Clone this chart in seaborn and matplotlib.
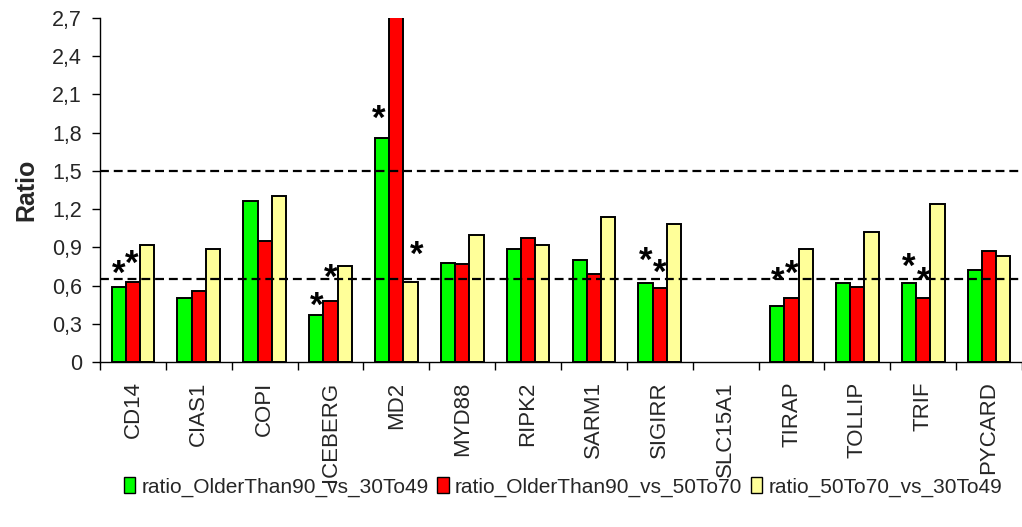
import numpy as np
import pandas as pd
import matplotlib
matplotlib.use("Agg")
import matplotlib.pyplot as plt
from matplotlib.patches import Patch
from matplotlib.ticker import FixedLocator, FuncFormatter
import seaborn as sns

# Expression ratios per gene
genes = ["CD14", "CIAS1", "COPI", "ICEBERG", "MD2", "MYD88", "RIPK2",
         "SARM1", "SIGIRR", "SLC15A1", "TIRAP", "TOLLIP", "TRIF", "PYCARD"]
series_names = ["ratio_OlderThan90_vs_30To49",
                "ratio_OlderThan90_vs_50To70",
                "ratio_50To70_vs_30To49"]
older90_vs_30to49 = [0.59, 0.50, 1.26, 0.37, 1.76, 0.78, 0.89, 0.80, 0.62, np.nan, 0.44, 0.62, 0.62, 0.72]
older90_vs_50to70 = [0.63, 0.56, 0.95, 0.48, 3.00, 0.77, 0.97, 0.69, 0.58, np.nan, 0.50, 0.59, 0.50, 0.87]
age50to70_vs_30to49 = [0.92, 0.89, 1.30, 0.75, 0.63, 1.00, 0.92, 1.14, 1.08, np.nan, 0.89, 1.02, 1.24, 0.83]
thresholds = [1.5, 0.65]

# Significant comparisons: (gene, series index)
significant = [("CD14", 0), ("CD14", 1), ("ICEBERG", 0), ("ICEBERG", 1),
               ("MD2", 0), ("MD2", 2), ("SIGIRR", 0), ("SIGIRR", 1),
               ("TIRAP", 0), ("TIRAP", 1), ("TRIF", 0), ("TRIF", 1)]
# placement of each asterisk above its bar: (lift in ratio units, x shift in categories)
star_place = [(0.18, 0.0), (0.22, -0.02), (0.15, 0.0), (0.26, 0.0),
              (0.23, -0.05), (0.29, 0.09), (0.25, 0.0), (0.20, 0.0),
              (0.28, 0.0), (0.27, 0.0), (0.21, 0.0), (0.22, 0.0)]

colors = ["#00FF00", "#FF0000", "#FFFF99"]

all_values = [older90_vs_30to49, older90_vs_50to70, age50to70_vs_30to49]
df = pd.DataFrame({
    "gene": genes * 3,
    "ratio": older90_vs_30to49 + older90_vs_50to70 + age50to70_vs_30to49,
    "series": sum([[s] * len(genes) for s in series_names], []),
})

sns.set_style("white")
plt.rcParams["font.family"] = ["Liberation Sans", "DejaVu Sans"]

fig = plt.figure(figsize=(10.22, 5.27), dpi=100)
ax = fig.add_axes([100 / 1022, 1 - 362 / 527, 922 / 1022, (362 - 18) / 527])

sns.barplot(data=df, x="gene", y="ratio", hue="series", order=genes,
            hue_order=series_names, palette=colors, width=0.65,
            edgecolor="black", linewidth=1.4, saturation=1, ax=ax,
            legend=False, errorbar=None, zorder=2)

for t in thresholds:
    ax.axhline(t, color="black", linestyle=(0, (4, 2.2)), linewidth=1.6, zorder=3)

ax.set_xlim(-0.5, 13.5)
ax.set_ylim(0, 2.7)

# y axis
ax.yaxis.set_major_locator(FixedLocator(np.round(np.arange(0, 2.71, 0.3), 1)))
ax.yaxis.set_major_formatter(FuncFormatter(
    lambda v, p: "0" if abs(v) < 1e-9 else f"{v:.1f}".replace(".", ",")))
ax.tick_params(axis="y", which="major", direction="out", length=6, width=1,
               color="black", labelsize=15.5, pad=7, left=True)
ax.set_ylabel("Ratio", fontsize=18, fontweight="bold", labelpad=10)

# x axis: labels at category centres, tick marks between categories
ax.set_xticks(range(len(genes)))
ax.set_xticklabels(genes, rotation=90, fontsize=16)
ax.tick_params(axis="x", which="major", length=0, pad=14)
ax.xaxis.set_minor_locator(FixedLocator(np.arange(-0.5, 14, 1.0)))
ax.tick_params(axis="x", which="minor", direction="out", length=6, width=1,
               color="black", bottom=True)
ax.set_xlabel("")

for side in ["top", "right"]:
    ax.spines[side].set_visible(False)
for side in ["left", "bottom"]:
    ax.spines[side].set_color("black")
    ax.spines[side].set_linewidth(1.0)

# significance asterisks
group_w = 0.65
bar_w = group_w / 3
star_fs = 25
for (gene, s), (lift, dx) in zip(significant, star_place):
    i = genes.index(gene)
    x = i - group_w / 2 + bar_w * (s + 0.5) + dx
    y = all_values[s][i] + lift
    ax.annotate("*", xy=(x, y), xytext=(0, -0.58 * star_fs), textcoords="offset points",
                ha="center", va="baseline", fontsize=star_fs, fontweight="bold",
                color="black", zorder=4)

handles = [Patch(facecolor=c, edgecolor="black", linewidth=1.0) for c in colors]
fig.legend(handles, series_names, loc="center", bbox_to_anchor=(0.551, 1 - 487 / 527),
           ncol=3, frameon=False, fontsize=15, handlelength=0.55, handleheight=0.8,
           handletextpad=0.3, columnspacing=0.4, borderaxespad=0)

fig.savefig("out.png", dpi=100)
